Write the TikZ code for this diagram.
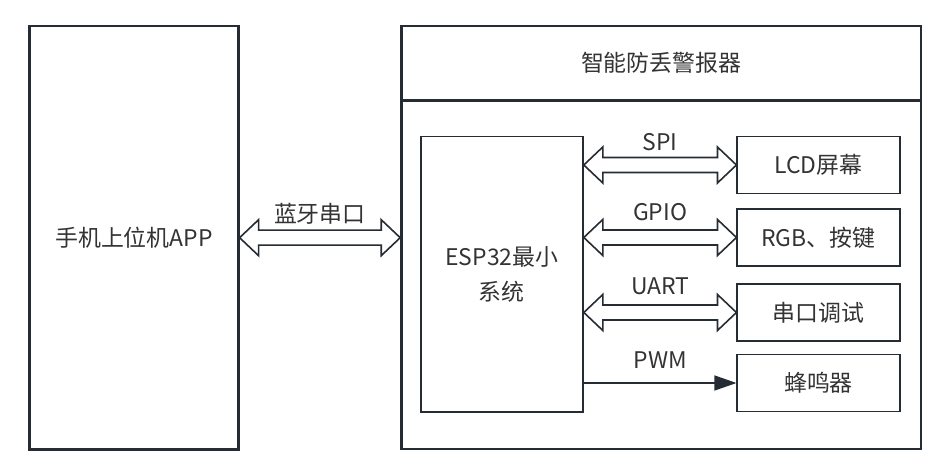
\documentclass[tikz,border=0pt]{standalone}
\usepackage{fontspec}
\setmainfont{Noto Sans CJK SC}
\usetikzlibrary{arrows.meta,positioning,calc}
\definecolor{linecol}{HTML}{262C33}
\definecolor{txtcol}{HTML}{333333}

\begin{document}
\begin{tikzpicture}[
        x=1bp, y=-1bp,
        every node/.style={font=\fontsize{23}{35}\selectfont, text=txtcol, inner sep=0pt},
        box/.style={draw=linecol, line width=1.6bp, minimum width=162.5bp, minimum height=57bp},
        dblarr/.style={draw=linecol, line width=1.6bp, fill=white, line join=miter, to path={
            let \p1=(\tikztostart), \p2=(\tikztotarget) in
            (\x1,\y1) -- (\x1+19bp,\y1+18bp) -- (\x1+19bp,\y1+7.5bp) -- (\x2-19bp,\y1+7.5bp)
            -- (\x2-19bp,\y1+18bp) -- (\x2,\y1) -- (\x2-19bp,\y1-18bp) -- (\x2-19bp,\y1-7.5bp)
            -- (\x1+19bp,\y1-7.5bp) -- (\x1+19bp,\y1-18bp) -- cycle}},
        pwmarr/.style={draw=linecol, line width=1.4bp, -{Triangle[length=22bp,width=15bp]}}
    ]
    \useasboundingbox (0,0) rectangle (952,471);

    % Outer blocks
    \node[draw=linecol, line width=2.2bp, minimum width=209bp, minimum height=423.5bp] (app) at (134,237.7) {手机上位机APP};
    \node[draw=linecol, line width=2.6bp, minimum width=519.5bp, minimum height=423bp] (sys) at (661.25,237.5) {};
    \coordinate (hdr) at (0,100.7);
    \draw[draw=linecol, line width=2.6bp] (sys.west |- hdr) -- (sys.east |- hdr);
    \node (title) at ($(sys.north)!0.5!(sys.north |- hdr)$) {智能防丢警报器};

    % Inner blocks
    \node[box, minimum width=162.3bp, minimum height=275bp, align=center] (esp) at (501.85,274.2) {ESP32最小\\系统};
    \node[box] (lcd) at (818.5,165) {LCD屏幕};
    \node[box] (rgb) at (818.5,237.5) {RGB、按键};
    \node[box] (uart) at (818.5,312.5) {串口调试};
    \node[box] (buzz) at (818.5,383) {蜂鸣器};

    % Connectors
    \draw[dblarr] (app.east) to (app.east -| sys.west);
    \draw[dblarr] (esp.east |- lcd) to (lcd.west);
    \draw[dblarr] (esp.east |- rgb) to (rgb.west);
    \draw[dblarr] (esp.east |- uart) to (uart.west);
    \draw[pwmarr] (esp.east |- buzz) -- (buzz.west);

    % Labels
    \node (bt) at ($(app.east)!0.5!(app.east -| sys.west)$) [yshift=24bp] {蓝牙串口};
    \node (spi) at ($(esp.east |- lcd)!0.5!(lcd.west)$) [yshift=23bp] {SPI};
    \node (gpio) at ($(esp.east |- rgb)!0.5!(rgb.west)$) [yshift=25bp] {GPIO};
    \node (uartlbl) at ($(esp.east |- uart)!0.5!(uart.west)$) [yshift=26bp] {UART};
    \node (pwm) at ($(esp.east |- buzz)!0.5!(buzz.west)$) [yshift=23bp] {PWM};

\end{tikzpicture}
\end{document}
